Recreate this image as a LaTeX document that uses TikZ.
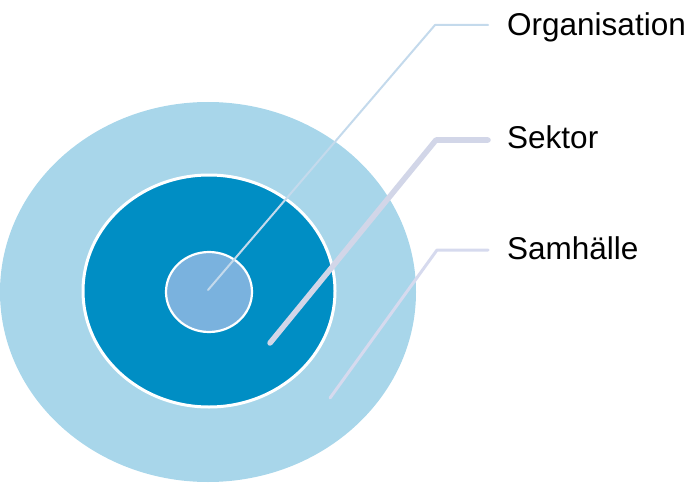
\documentclass[tikz,border=0pt]{standalone}
\usepackage{fontspec}
\setmainfont{Liberation Sans}
\usetikzlibrary{positioning}
\definecolor{outerblue}{RGB}{168,214,234}
\definecolor{midblue}{RGB}{0,142,196}
\definecolor{innerblue}{RGB}{122,178,222}
\definecolor{orgline}{RGB}{196,218,236}
\definecolor{sekline}{RGB}{210,214,232}
\definecolor{samline}{RGB}{214,218,238}
\tikzset{
  ring/.style   = {draw=white, line width=3pt},
  lbl/.style    = {inner sep=0pt, anchor=base west, font=\fontsize{31.5}{38}\selectfont},
  leader/.style = {line cap=round, line join=round}
}

\begin{document}
\begin{tikzpicture}[x=1pt,y=-1pt]
\useasboundingbox (0,0) rectangle (693,484);

\fill[outerblue] (208,292) ellipse [x radius=208, y radius=190];
\filldraw[ring, fill=midblue] (209,291) ellipse [x radius=126, y radius=116];
\filldraw[ring, line width=2.2pt, fill=innerblue] (209,292) ellipse [x radius=43, y radius=40];

\node[lbl] (org) at (507,36) {Organisation};
\node[lbl] (sek) at (507,148) {Sektor};
\node[lbl] (sam) at (507,259) {Samhälle};

\coordinate (o1) at (208,290);
\coordinate (o2) at (435,25);
\coordinate (o3) at (488,25);
\coordinate (s1) at (270,343);
\coordinate (s2) at (436,140);
\coordinate (s3) at (488,140);
\coordinate (m1) at (330,398);
\coordinate (m2) at (437,250);
\coordinate (m3) at (488,250);

\draw[leader, orgline, line width=2pt] (o1) -- (o2) -- (o3);
\draw[leader, sekline, line width=5.5pt] (s1) -- (s2) -- (s3);
\draw[leader, samline, line width=3pt] (m1) -- (m2) -- (m3);

\end{tikzpicture}
\end{document}
